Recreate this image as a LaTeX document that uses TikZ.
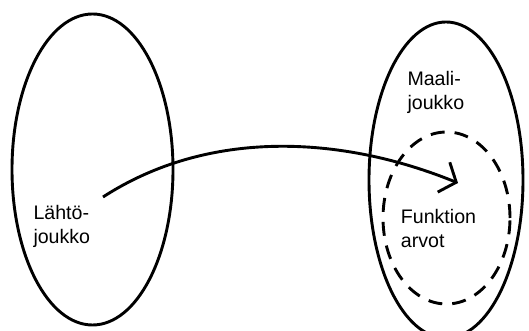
\documentclass[tikz,border=0pt]{standalone}
\usepackage{fontspec}
\setmainfont{Liberation Sans}
\usetikzlibrary{arrows.meta}
\tikzset{
  setline/.style={line width=2.9pt},
  dashline/.style={line width=2.9pt, dash pattern=on 14pt off 10pt},
  lbl/.style={inner sep=0pt, anchor=base west, align=left, font=\fontsize{19.6}{23.3}\selectfont}
}
\begin{document}
\begin{tikzpicture}[x=1pt,y=1pt]
\useasboundingbox (0,0) rectangle (529,331);
\begin{scope}
\clip (0,0) rectangle (529,331);
\draw[setline] (92.5,161.5) ellipse [x radius=80.5, y radius=155.5];
\draw[setline] (446,151) ellipse [x radius=77, y radius=158];
\draw[dashline] (446.5,113) ellipse [x radius=63.5, y radius=86];
\end{scope}
\coordinate (s) at (103,134);
\coordinate (e) at (458,148);
\draw[setline, -{Straight Barb[angle=100:21pt, line width=2.9pt]}] (s) .. controls (208,202) and (340,196) .. (e);
\node[lbl] (src) at (33.3,87.7) {Lähtö-\\joukko};
\node[lbl] (tgt) at (407.3,221.7) {Maali-\\joukko};
\node[lbl] (img) at (400.7,83.7) {Funktion\\arvot};
\end{tikzpicture}
\end{document}
